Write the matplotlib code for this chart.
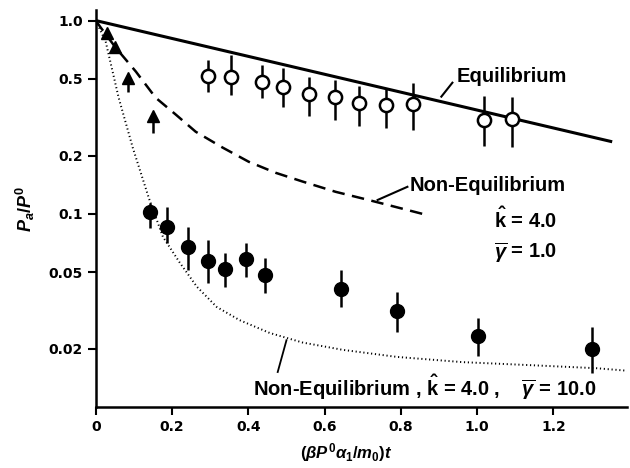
import matplotlib
matplotlib.use("Agg")
import matplotlib.pyplot as plt
from matplotlib.ticker import FixedLocator, NullLocator, FixedFormatter

plt.rcParams['font.family'] = ['Liberation Sans', 'DejaVu Sans']
plt.rcParams['mathtext.fontset'] = 'custom'
plt.rcParams['mathtext.rm'] = 'Liberation Sans:bold'
plt.rcParams['mathtext.it'] = 'Liberation Sans:italic:bold'
plt.rcParams['mathtext.bf'] = 'Liberation Sans:bold'

# Equilibrium (straight line on log axis)
eq_x = [0.0, 1.35]
eq_y = [1.0, 0.237]

# Non-Equilibrium, k=4.0, gamma=1.0 (dashed)
neq1_x = [0.0, 0.013, 0.052, 0.105, 0.157, 0.210, 0.262, 0.333, 0.401, 0.472, 0.542, 0.629, 0.715, 0.865]
neq1_y = [1.0, 0.920, 0.725, 0.545, 0.399, 0.326, 0.266, 0.220, 0.186, 0.163, 0.147, 0.130, 0.118, 0.099]

# Non-Equilibrium, k=4.0, gamma=10.0 (dotted)
neq10_x = [0.0, 0.026, 0.060, 0.097, 0.139, 0.176, 0.220, 0.265, 0.317, 0.377, 0.456, 0.542,
           0.647, 0.789, 0.961, 1.137, 1.313, 1.399]
neq10_y = [1.0, 0.778, 0.399, 0.220, 0.121, 0.0761, 0.0560, 0.0420, 0.0330, 0.0282, 0.0242, 0.0216,
           0.0198, 0.0182, 0.0171, 0.0165, 0.0159, 0.0154]

# open circles
open_x = [0.293, 0.354, 0.435, 0.490, 0.558, 0.626, 0.689, 0.760, 0.831, 1.017, 1.090]
open_y = [0.519, 0.513, 0.483, 0.455, 0.419, 0.404, 0.376, 0.367, 0.372, 0.307, 0.311]
open_hi = [0.628, 0.667, 0.592, 0.571, 0.513, 0.495, 0.460, 0.444, 0.477, 0.409, 0.404]
open_lo = [0.429, 0.414, 0.399, 0.359, 0.322, 0.307, 0.286, 0.279, 0.272, 0.225, 0.222]

# filled circles
fill_x = [0.141, 0.186, 0.241, 0.293, 0.340, 0.393, 0.445, 0.642, 0.791, 1.003, 1.302]
fill_y = [0.102, 0.0855, 0.0675, 0.0573, 0.0518, 0.0585, 0.0483, 0.0410, 0.0315, 0.0233, 0.0200]
fill_hi = [0.114, 0.109, 0.0855, 0.0733, 0.0627, 0.0707, 0.0592, 0.0513, 0.0395, 0.0288, 0.0261]
fill_lo = [0.0846, 0.0707, 0.0513, 0.0439, 0.0419, 0.0472, 0.0391, 0.0330, 0.0245, 0.0184, 0.0151]

# triangles (tails only below)
tri_x = [0.029, 0.050, 0.084, 0.149]
tri_y = [0.867, 0.733, 0.507, 0.322]
tri_hi = [0.867, 0.733, 0.507, 0.322]
tri_lo = [0.867, 0.733, 0.429, 0.263]

xticks = [0, 0.2, 0.4, 0.6, 0.8, 1.0, 1.2]
xtick_labels = ["0", "0.2", "0.4", "0.6", "0.8", "1.0", "1.2"]
yticks = [1.0, 0.5, 0.2, 0.1, 0.05, 0.02]
ytick_labels = ["1.0", "0.5", "0.2", "0.1", "0.05", "0.02"]

fig = plt.figure(figsize=(6.3, 4.68), dpi=100)
ax = fig.add_axes([0.152, 0.130, 0.844, 0.848])
ax.set_yscale('log')
ax.set_xlim(0, 1.394)
ax.set_ylim(0.01, 1.13)

ax.plot(eq_x, eq_y, color='black', lw=2.2)
ax.plot(neq1_x, neq1_y, color='black', lw=1.8, ls=(0, (5, 3)))
ax.plot(neq10_x, neq10_y, color='black', lw=1.4, ls=(0, (0.6, 1.4)))


def err(x, y, lo, hi):
    return [[yy - l for yy, l in zip(y, lo)], [h - yy for yy, h in zip(y, hi)]]


ax.errorbar(open_x, open_y, yerr=err(open_x, open_y, open_lo, open_hi), fmt='o',
            mfc='white', mec='black', mew=1.8, ms=9.5, ecolor='black', elinewidth=1.8,
            capsize=0, zorder=3)
ax.errorbar(fill_x, fill_y, yerr=err(fill_x, fill_y, fill_lo, fill_hi), fmt='o',
            mfc='black', mec='black', ms=10, ecolor='black', elinewidth=1.8,
            capsize=0, zorder=3)
ax.errorbar(tri_x, tri_y, yerr=err(tri_x, tri_y, tri_lo, tri_hi), fmt='^',
            mfc='black', mec='black', ms=8, ecolor='black', elinewidth=1.8,
            capsize=0, zorder=3)

for s in ['top', 'right']:
    ax.spines[s].set_visible(False)
for s in ['left', 'bottom']:
    ax.spines[s].set_linewidth(1.8)

ax.yaxis.set_major_locator(FixedLocator(yticks))
ax.yaxis.set_major_formatter(FixedFormatter(ytick_labels))
ax.yaxis.set_minor_locator(NullLocator())
ax.set_xticks(xticks)
ax.set_xticklabels(xtick_labels)
ax.tick_params(direction='out', length=6, width=1.5, labelsize=10)
for lab in ax.get_xticklabels() + ax.get_yticklabels():
    lab.set_fontfamily('DejaVu Sans')
    lab.set_fontweight('bold')

ax.set_ylabel(r"$P_a/P^0$", fontsize=13, labelpad=8)
ax.set_xlabel(r"$(\beta P^0\alpha_1/m_0)t$", fontsize=12, labelpad=4)
ax.xaxis.set_label_coords(0.47, -0.085)

tkw = dict(fontsize=14.5, fontweight='bold', va='center', ha='left')
ax.text(0.946, 0.513, "Equilibrium", **tkw)
ax.plot([0.935, 0.906], [0.477, 0.404], color='black', lw=1.5)
ax.text(0.823, 0.141, "Non-Equilibrium", **tkw)
ax.plot([0.817, 0.739], [0.138, 0.118], color='black', lw=1.5)
ax.text(1.045, 0.093, r"$\hat{\mathrm{k}}$ = 4.0", **tkw)
ax.text(1.045, 0.0628, r"$\overline{\gamma}$ = 1.0", **tkw)
ax.text(0.411, 0.0127, r"Non-Equilibrium , $\hat{\mathrm{k}}$ = 4.0 ,    $\overline{\gamma}$ = 10.0", **tkw)
ax.plot([0.477, 0.500], [0.0152, 0.0222], color='black', lw=1.3)

fig.savefig("out.png", dpi=100)
